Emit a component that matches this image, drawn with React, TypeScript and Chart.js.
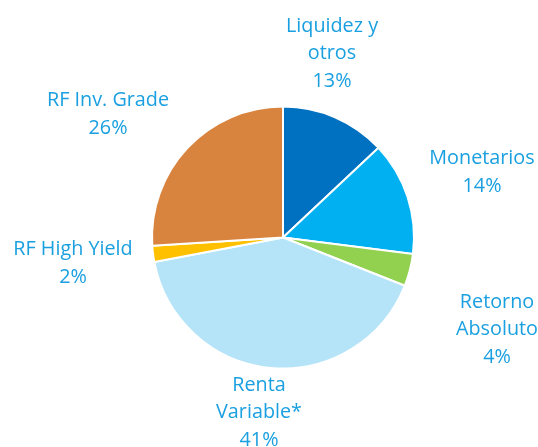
import React, { useEffect, useRef } from "react";
import { Chart, registerables } from "chart.js";

Chart.register(...registerables);

const categories: string[][] = [
  ["Liquidez y", "otros"],
  ["Monetarios"],
  ["Retorno", "Absoluto"],
  ["Renta", "Variable*"],
  ["RF High Yield"],
  ["RF Inv. Grade"],
];
const values: number[] = [13, 14, 4, 41, 2, 26];
const percentLabels: string[] = ["13%", "14%", "4%", "41%", "2%", "26%"];
const colors: string[] = ["#0070C0", "#00B0F0", "#92D050", "#B5E4F8", "#FFC000", "#D9843E"];

// label block centre offsets from pie centre (styling)
const labelOffsets: [number, number][] = [
  [49, -184],
  [199, -65],
  [214, 92],
  [-24, 175],
  [-210, 26],
  [-175, -123],
];

const labelPlugin = {
  id: "outerLabels",
  afterDatasetsDraw(chart: any) {
    const ctx = chart.ctx;
    const meta = chart.getDatasetMeta(0);
    ctx.save();
    ctx.font = '19.8px "Open Sans", Lato, sans-serif';
    ctx.fillStyle = "#1AA0E0";
    ctx.textAlign = "center";
    ctx.textBaseline = "middle";
    const lh = 27.5;
    meta.data.forEach((arc: any, i: number) => {
      const cx = arc.x + labelOffsets[i][0];
      const cy = arc.y + labelOffsets[i][1];
      const lines = [...categories[i], percentLabels[i]];
      const top = cy - ((lines.length - 1) * lh) / 2;
      lines.forEach((t, j) => ctx.fillText(t, cx, top + j * lh));
    });
    ctx.restore();
  },
};

export default function App() {
  const ref = useRef<HTMLCanvasElement>(null);
  useEffect(() => {
    document.body.style.margin = "0";
    const chart = new Chart(ref.current!, {
      type: "pie",
      data: {
        labels: categories.map((c) => c.join(" ")),
        datasets: [
          {
            data: values,
            backgroundColor: colors,
            borderColor: "#ffffff",
            borderWidth: 2,
          },
        ],
      },
      options: {
        animation: false,
        responsive: false,
        maintainAspectRatio: false,
        layout: { padding: { left: 151, right: 123, top: 105.5, bottom: 77.5 } },
        plugins: { legend: { display: false }, tooltip: { enabled: false } },
      },
      plugins: [labelPlugin],
    });
    return () => chart.destroy();
  }, []);
  return (
    <div style={{ width: 538, height: 447, background: "#fff" }}>
      <canvas ref={ref} width={538} height={447} style={{ display: "block" }} />
    </div>
  );
}
